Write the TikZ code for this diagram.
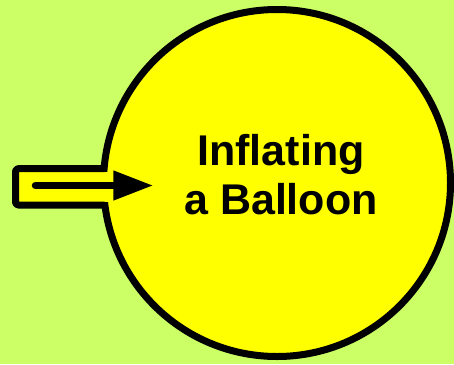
\documentclass[tikz,border=0pt]{standalone}
\usepackage{fontspec}
\setmainfont{Liberation Sans}
\usetikzlibrary{arrows.meta}
\definecolor{BalloonBack}{HTML}{CCFF66}
\definecolor{BalloonFill}{HTML}{FFFF00}

\begin{document}
\begin{tikzpicture}[
    x=1pt, y=-1pt,
    balloon/.style={
      circle, draw=black, fill=BalloonFill, line width=7pt,
      minimum size=347pt, inner sep=0pt
    },
    caption/.style={
      align=center, inner sep=0pt, font=\fontsize{43}{49}\selectfont\bfseries
    },
    tube/.style={draw=black, line width=7pt, rounded corners=3pt, line join=round},
    air/.style={-{Triangle[length=40pt, width=28pt]}, line width=7.5pt, line cap=round}
  ]
    \fill[BalloonBack] (0,0) rectangle (454,364);
    \useasboundingbox (0,0) rectangle (454,364);

    \node[balloon] (ball) at (277,183) {};
    % neck of the balloon
    \fill[BalloonFill] (19,172.1) rectangle (112,201.5);
    \draw[tube] (104.5,168.6) -- (15.5,168.6) -- (15.5,205) -- (104.5,205);

    \node[caption] (title) at (281,175) {Inflating\\a Balloon};

    \coordinate (airin) at (35.5,185.5);
    \coordinate (airtip) at (153.3,185.5);
    \draw[air] (airin) -- (airtip);
\end{tikzpicture}
\end{document}
